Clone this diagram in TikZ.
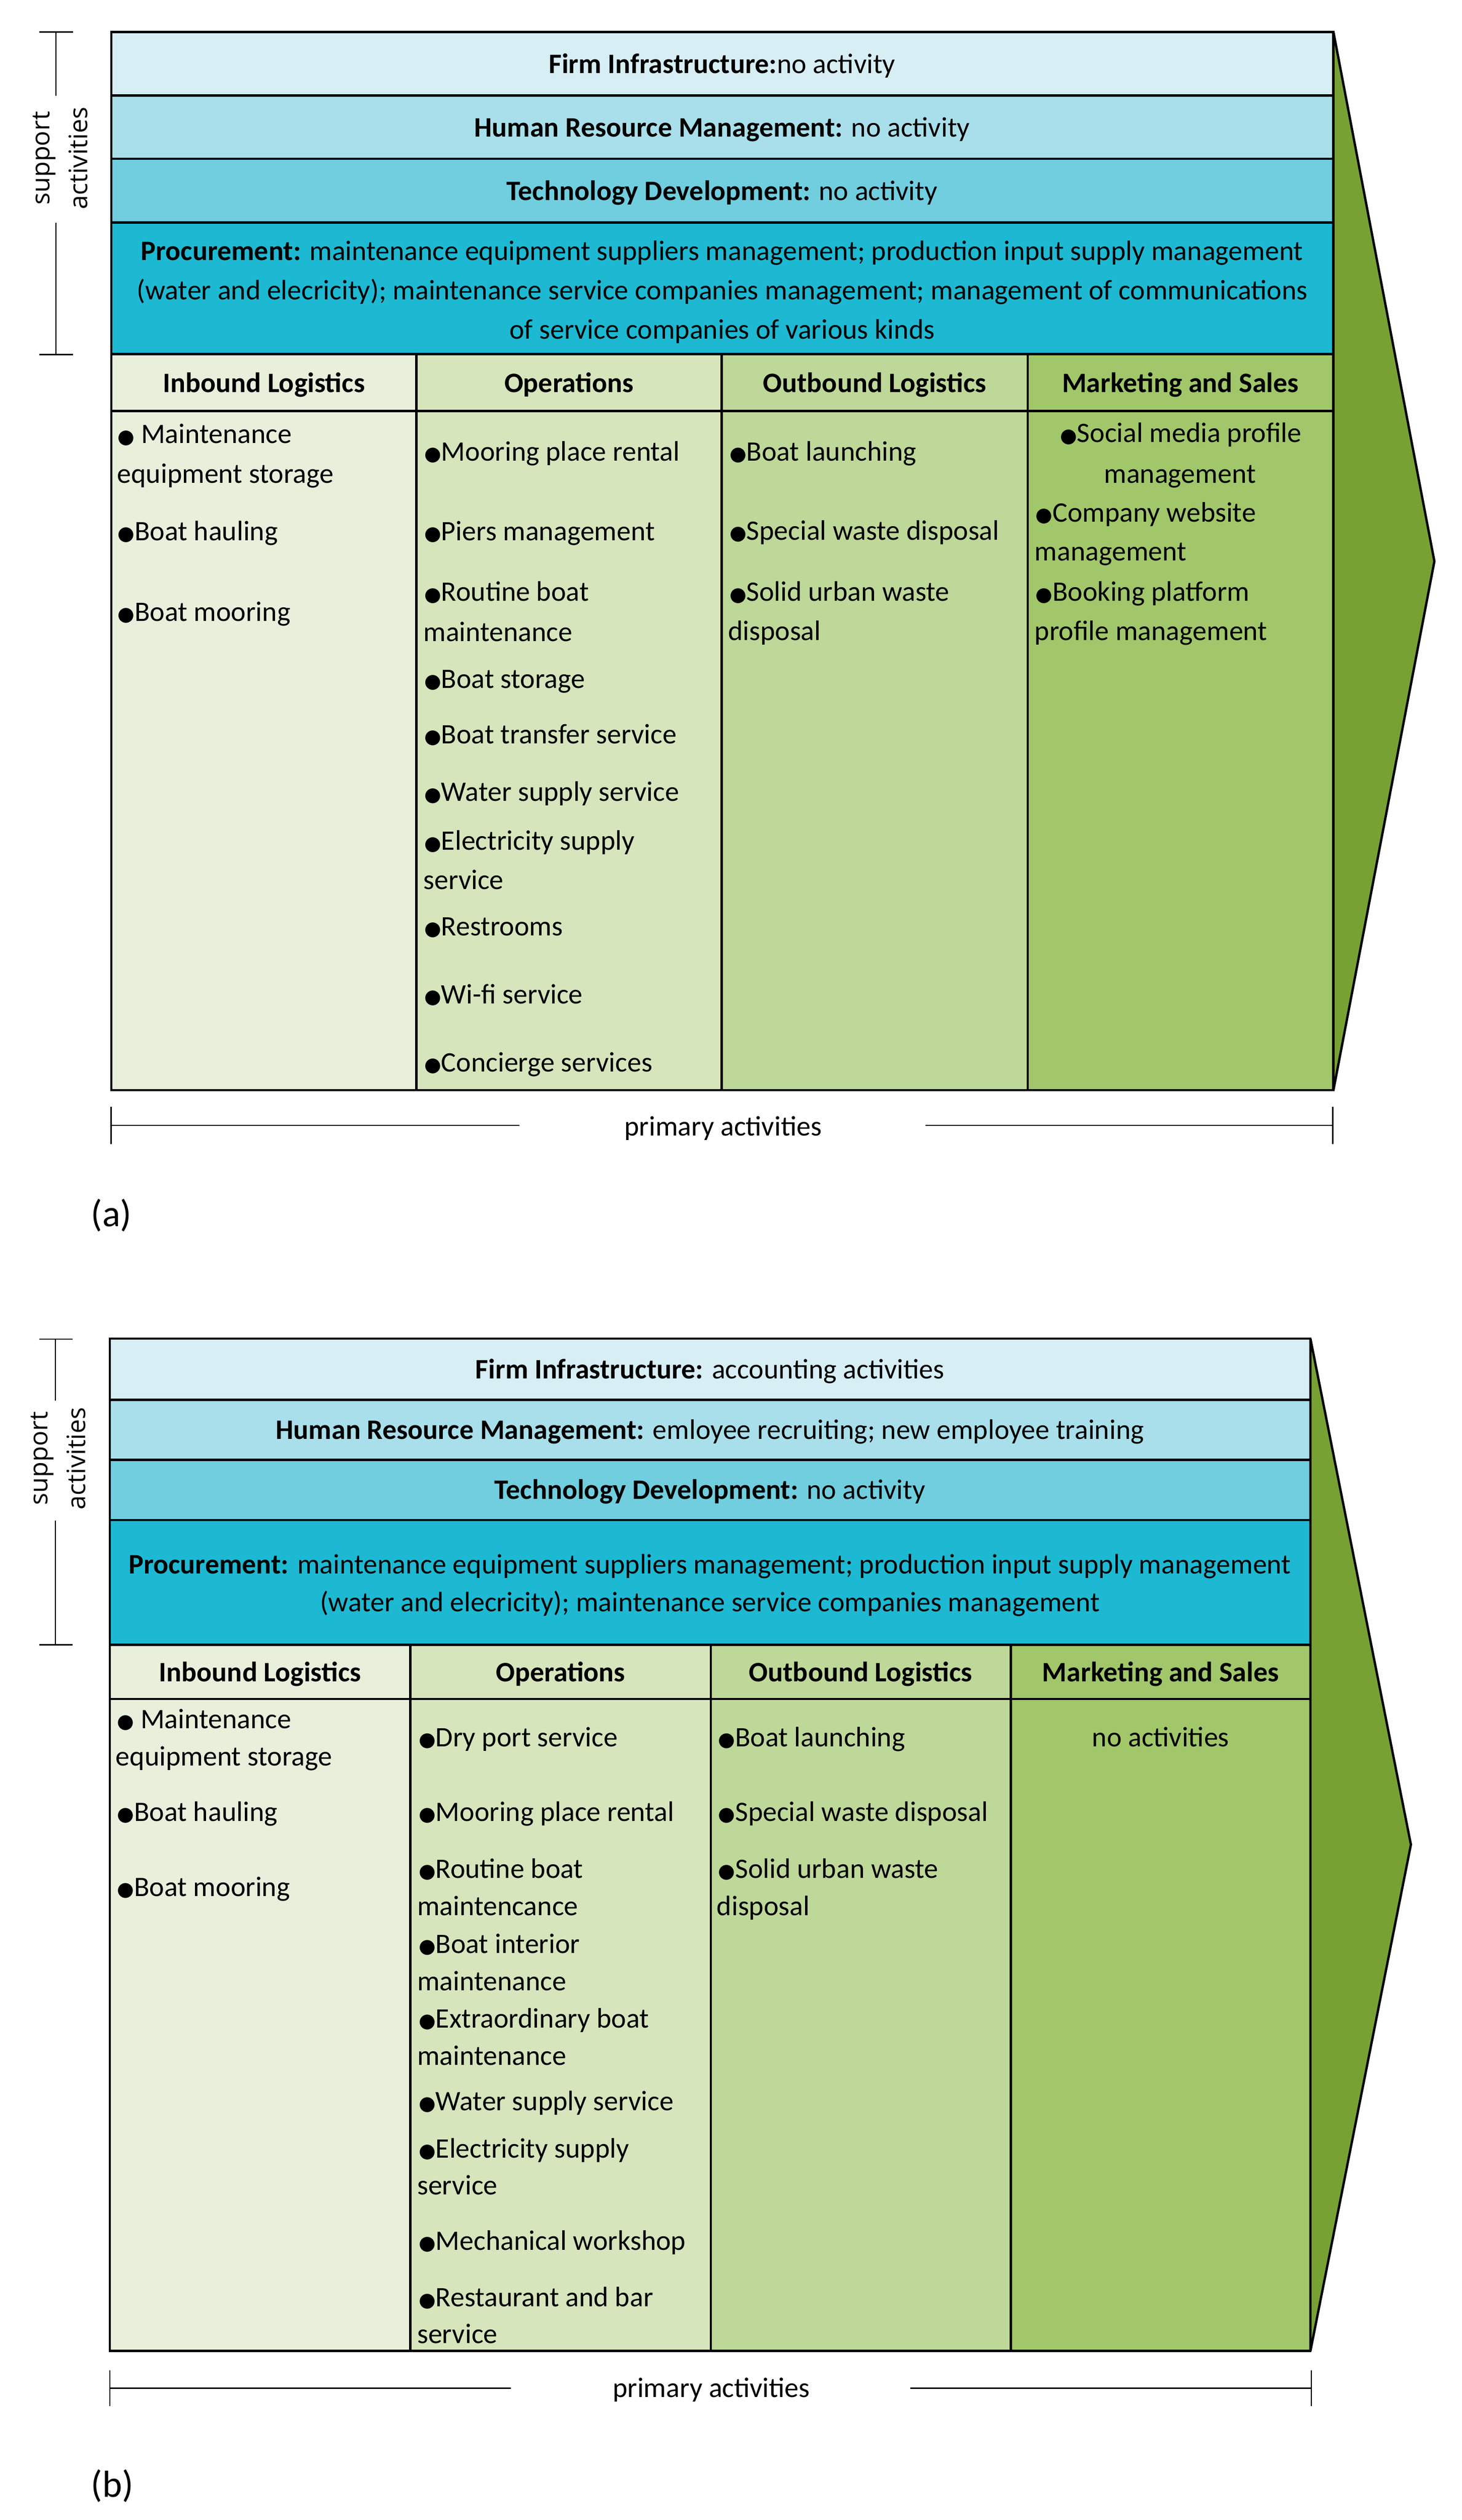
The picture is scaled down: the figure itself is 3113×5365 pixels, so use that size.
\documentclass[tikz,border=0pt]{standalone}
\usepackage{fontspec}
\setmainfont{Carlito}
\newfontfamily\osfont{Open Sans}
\newfontfamily\bulfont{DejaVu Sans}
\definecolor{cFirm}{HTML}{D7EEF5}
\definecolor{cHRM}{HTML}{A9DFEA}
\definecolor{cTech}{HTML}{70CEDF}
\definecolor{cProc}{HTML}{1DB9D3}
\definecolor{cIn}{HTML}{E8F0DC}
\definecolor{cOps}{HTML}{D6E5BC}
\definecolor{cOut}{HTML}{BED899}
\definecolor{cMS}{HTML}{A1C76A}
\definecolor{cArrow}{HTML}{78A134}
\newcommand\fs{\fontsize{17.07pt}{20pt}\selectfont}
\newcommand\bu{{\bulfont\fontsize{11.8pt}{12pt}\selectfont\raisebox{0.02em}{●}}}
\newcommand\TL[4]{\node[txt,anchor=base west] (#1) at (#2,#3) {#4};}
\newcommand\TC[4]{\node[txt,anchor=base] (#1) at (#2,#3) {#4};}
\tikzset{
  txt/.style={inner sep=0pt, font=\fs, text=black},
  grid/.style={draw=black, line width=0.5mm},
  brk/.style={draw=black, line width=0.3mm},
  side/.style={inner sep=0pt, rotate=90, align=center, font=\osfont\fontsize{15.4pt}{23pt}\selectfont},
  captxt/.style={inner sep=0pt, anchor=base west, font=\fontsize{22.8pt}{24pt}\selectfont}
}
\begin{document}
\begin{tikzpicture}[x=0.1mm,y=-0.1mm]
\fill[white] (0,0) rectangle (3113,5365);
\useasboundingbox (0,0) rectangle (3113,5365);
% ================= panel (a) =================
\fill[cFirm] (237,68) rectangle (2840,203);
\fill[cHRM] (237,203) rectangle (2840,338);
\fill[cTech] (237,338) rectangle (2840,474);
\fill[cProc] (237,474) rectangle (2840,754);
\fill[cIn] (237,754) rectangle (887,2321);
\fill[cOps] (887,754) rectangle (1537,2321);
\fill[cOut] (1537,754) rectangle (2189,2321);
\fill[cMS] (2189,754) rectangle (2840,2321);
\filldraw[grid, fill=cArrow, line join=miter] (2840,68) -- (3055,1195) -- (2840,2321) -- cycle;
\draw[grid] (237,68) rectangle (2840,2321);
\draw[grid] (237,203) -- (2840,203);
\draw[grid] (237,338) -- (2840,338);
\draw[grid] (237,474) -- (2840,474);
\draw[grid] (237,754) -- (2840,754);
\draw[grid] (237,875) -- (2840,875);
\draw[grid] (887,754) -- (887,2321);
\draw[grid] (1537,754) -- (1537,2321);
\draw[grid] (2189,754) -- (2189,2321);
% support bracket
\draw[brk] (84,68) -- (156,68);
\draw[brk] (119,68) -- (119,204);
\draw[brk] (119,474) -- (119,755);
\draw[brk] (84,755) -- (156,755);
\node[side] (sa) at (128,337) {support\\activities};
% primary bracket
\draw[brk] (237,2356) -- (237,2436);
\draw[brk] (237,2396) -- (1106,2396);
\draw[brk] (1971,2396) -- (2839,2396);
\draw[brk] (2839,2356) -- (2839,2436);
\TC{pa}{1540}{2418}{primary activities}
\node[captxt] (capa) at (193,2611) {(a)};
% support rows
\TC{fa}{1538}{156}{\textbf{Firm Infrastructure:}no activity}
\TC{ha}{1538}{291}{\textbf{Human Resource Management:} no activity}
\TC{ta}{1538}{427}{\textbf{Technology Development:} no activity}
\TC{pra}{1538}{554}{\textbf{Procurement:} maintenance equipment suppliers management; production input supply management}
\TC{prb}{1538}{638}{(water and elecricity); maintenance service companies management; management of communications}
\TC{prc}{1538}{722}{of service companies of various kinds}
% headers
\TC{hia}{562}{835}{\textbf{Inbound Logistics}}
\TC{hoa}{1212}{835}{\textbf{Operations}}
\TC{hua}{1863}{835}{\textbf{Outbound Logistics}}
\TC{hma}{2514}{835}{\textbf{Marketing and Sales}}
% inbound
\TL{ia1}{250}{944}{\bu{} Maintenance}
\TL{ia2}{249}{1028}{equipment storage}
\TL{ia3}{250}{1151}{\bu Boat hauling}
\TL{ia4}{250}{1322}{\bu Boat mooring}
% operations
\TL{oa1}{903}{981}{\bu Mooring place rental}
\TL{oa2}{903}{1151}{\bu Piers management}
\TL{oa3}{903}{1280}{\bu Routine boat}
\TL{oa4}{901}{1365}{maintenance}
\TL{oa5}{903}{1465}{\bu Boat storage}
\TL{oa6}{903}{1583}{\bu Boat transfer service}
\TL{oa7}{903}{1706}{\bu Water supply service}
\TL{oa8}{903}{1810}{\bu Electricity supply}
\TL{oa9}{901}{1893}{service}
\TL{oa10}{903}{1992}{\bu Restrooms}
\TL{oa11}{903}{2137}{\bu Wi-fi service}
\TL{oa12}{903}{2282}{\bu Concierge services}
% outbound
\TL{ua1}{1553}{981}{\bu Boat launching}
\TL{ua2}{1553}{1150}{\bu Special waste disposal}
\TL{ua3}{1553}{1280}{\bu Solid urban waste}
\TL{ua4}{1550}{1363}{disposal}
% marketing
\TC{ma1}{2515}{942}{\bu Social media profile}
\TC{ma2}{2513}{1028}{management}
\TL{ma3}{2205}{1111}{\bu Company website}
\TL{ma4}{2203}{1194}{management}
\TL{ma5}{2205}{1280}{\bu Booking platform}
\TL{ma6}{2203}{1363}{profile management}
% ================= panel (b) =================
\fill[cFirm] (234,2850) rectangle (2791,2980);
\fill[cHRM] (234,2980) rectangle (2791,3108);
\fill[cTech] (234,3108) rectangle (2791,3236);
\fill[cProc] (234,3236) rectangle (2791,3502);
\fill[cIn] (234,3502) rectangle (874,5005);
\fill[cOps] (874,3502) rectangle (1514,5005);
\fill[cOut] (1514,3502) rectangle (2153,5005);
\fill[cMS] (2153,3502) rectangle (2791,5005);
\filldraw[grid, fill=cArrow, line join=miter] (2791,2850) -- (3005,3927) -- (2791,5005) -- cycle;
\draw[grid] (234,2850) rectangle (2791,5005);
\draw[grid] (234,2980) -- (2791,2980);
\draw[grid] (234,3108) -- (2791,3108);
\draw[grid] (234,3236) -- (2791,3236);
\draw[grid] (234,3502) -- (2791,3502);
\draw[grid] (234,3617) -- (2791,3617);
\draw[grid] (874,3502) -- (874,5005);
\draw[grid] (1514,3502) -- (1514,5005);
\draw[grid] (2153,3502) -- (2153,5005);
% support bracket
\draw[brk] (84,2851) -- (154,2851);
\draw[brk] (118,2851) -- (118,2982);
\draw[brk] (118,3237) -- (118,3502);
\draw[brk] (84,3502) -- (154,3502);
\node[side] (sb) at (124,3105) {support\\activities};
% primary bracket
\draw[brk] (234,5046) -- (234,5122);
\draw[brk] (234,5084) -- (1088,5084);
\draw[brk] (1939,5084) -- (2793,5084);
\draw[brk] (2793,5046) -- (2793,5122);
\TC{pb}{1515}{5104}{primary activities}
\node[captxt] (capb) at (193,5316) {(b)};
% support rows
\TC{fb}{1512}{2935}{\textbf{Firm Infrastructure:} accounting activities}
\TC{hb}{1512}{3064}{\textbf{Human Resource Management:} emloyee recruiting; new employee training}
\TC{tb}{1512}{3192}{\textbf{Technology Development:} no activity}
\TC{prd}{1512}{3350}{\textbf{Procurement:} maintenance equipment suppliers management; production input supply management}
\TC{pre}{1512}{3431}{(water and elecricity); maintenance service companies management}
% headers
\TC{hib}{554}{3580}{\textbf{Inbound Logistics}}
\TC{hob}{1194}{3580}{\textbf{Operations}}
\TC{hub}{1833}{3580}{\textbf{Outbound Logistics}}
\TC{hmb}{2472}{3580}{\textbf{Marketing and Sales}}
% inbound
\TL{ib1}{249}{3680}{\bu{} Maintenance}
\TL{ib2}{246}{3759}{equipment storage}
\TL{ib3}{249}{3877}{\bu Boat hauling}
\TL{ib4}{249}{4037}{\bu Boat mooring}
% operations
\TL{ob1}{891}{3718}{\bu Dry port service}
\TL{ob2}{891}{3877}{\bu Mooring place rental}
\TL{ob3}{891}{3998}{\bu Routine boat}
\TL{ob4}{888}{4078}{maintencance}
\TL{ob5}{891}{4158}{\bu Boat interior}
\TL{ob6}{888}{4238}{maintenance}
\TL{ob7}{891}{4317}{\bu Extraordinary boat}
\TL{ob8}{888}{4397}{maintenance}
\TL{ob9}{891}{4493}{\bu Water supply service}
\TL{ob10}{891}{4594}{\bu Electricity supply}
\TL{ob11}{888}{4672}{service}
\TL{ob12}{891}{4790}{\bu Mechanical workshop}
\TL{ob13}{891}{4911}{\bu Restaurant and bar}
\TL{ob14}{888}{4989}{service}
% outbound
\TL{ub1}{1529}{3718}{\bu Boat launching}
\TL{ub2}{1529}{3877}{\bu Special waste disposal}
\TL{ub3}{1529}{3998}{\bu Solid urban waste}
\TL{ub4}{1526}{4078}{disposal}
% marketing
\TC{mb1}{2472}{3718}{no activities}
\end{tikzpicture}
\end{document}
